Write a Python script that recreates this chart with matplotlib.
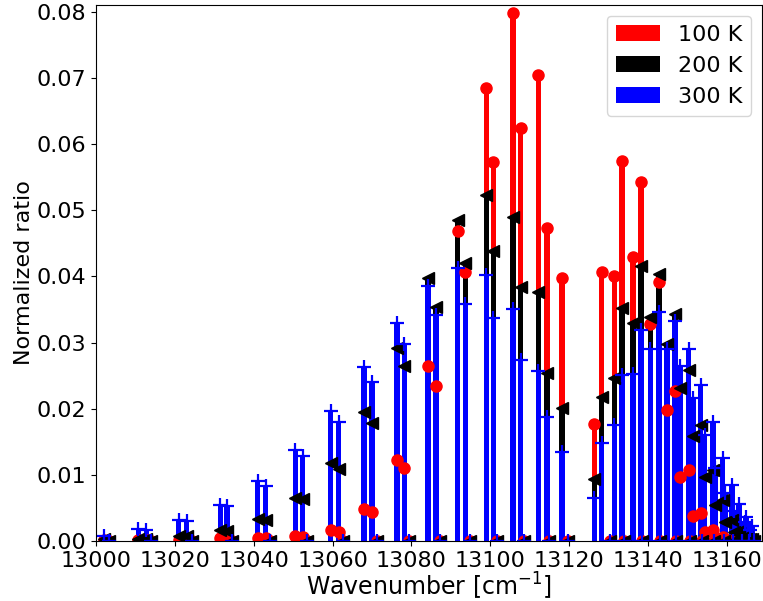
import numpy as np
import matplotlib
matplotlib.use('Agg')
import matplotlib.pyplot as plt

# line positions [cm-1] and normalized ratios at 100 K, 200 K, 300 K
wn = [13001.9, 13003.2,
      13010.7, 13012.7, 13014.0, 13020.9, 13023.0, 13024.2,
      13031.5, 13033.2, 13034.4, 13041.0, 13043.0, 13044.2,
      13050.5, 13052.4, 13053.6, 13059.5, 13061.5, 13062.7,
      13068.0, 13070.0, 13071.2, 13076.3, 13078.2, 13079.4,
      13084.2, 13086.2, 13087.3, 13091.7, 13093.7, 13094.9,
      13099.0, 13100.8, 13101.8, 13105.8, 13107.7, 13108.6,
      13112.2, 13114.4, 13115.0, 13118.2, 13119.6,
      13126.4, 13128.3, 13130.5, 13131.5, 13133.4, 13133.9,
      13136.2, 13138.2, 13138.5, 13140.6, 13142.8, 13143.0,
      13144.8, 13146.9, 13147.0, 13148.2, 13150.3, 13150.6,
      13151.4, 13153.4, 13153.8, 13154.4, 13156.5, 13156.8,
      13157.1, 13159.0, 13159.3, 13159.6, 13161.3, 13161.5,
      13161.8, 13163.1, 13163.8, 13164.5, 13164.9, 13165.7,
      13166.0, 13166.4, 13166.8]
r100 = [0.0001, 0,
        0.0001, 0.0001, 0, 0.0002, 0.0001, 0,
        0.0004, 0.0003, 0, 0.0004, 0.0004, 0,
        0.0007, 0.0006, 0, 0.0016, 0.0014, 0,
        0.0048, 0.0043, 0, 0.0123, 0.0111, 0,
        0.0264, 0.0234, 0, 0.0469, 0.0407, 0,
        0.0685, 0.0573, 0, 0.0798, 0.0624, 0,
        0.0705, 0.0474, 0, 0.0397, 0,
        0.0177, 0.0407, 0, 0.0400, 0.0575, 0,
        0.0430, 0.0543, 0, 0.0328, 0.0391, 0,
        0.0198, 0.0227, 0, 0.0096, 0.0108, 0,
        0.0038, 0.0042, 0, 0.0014, 0.0016, 0,
        0.0005, 0.0006, 0, 0.0002, 0.0002, 0,
        0.0001, 0.0001, 0, 0, 0, 0,
        0, 0, 0]
r200 = [0.0003, 0,
        0.0003, 0.0003, 0, 0.0008, 0.0007, 0,
        0.0016, 0.0015, 0, 0.0033, 0.0032, 0,
        0.0065, 0.0063, 0, 0.0118, 0.0109, 0,
        0.0195, 0.0179, 0, 0.0292, 0.0265, 0,
        0.0398, 0.0354, 0, 0.0485, 0.0421, 0,
        0.0523, 0.0438, 0, 0.0490, 0.0384, 0,
        0.0377, 0.0254, 0, 0.0201, 0,
        0.0094, 0.0218, 0, 0.0246, 0.0353, 0,
        0.0329, 0.0416, 0, 0.0339, 0.0404, 0,
        0.0298, 0.0343, 0, 0.0231, 0.0259, 0,
        0.0158, 0.0176, 0, 0.0097, 0.0107, 0,
        0.0054, 0.0062, 0, 0.0028, 0.0032, 0,
        0.0013, 0.0015, 0, 0.0006, 0.0007, 0,
        0.0003, 0.0003, 0]
r300 = [0.0007, 0,
        0.0018, 0.0017, 0, 0.0032, 0.0030, 0,
        0.0055, 0.0053, 0, 0.0090, 0.0083, 0,
        0.0137, 0.0128, 0, 0.0196, 0.0180, 0,
        0.0263, 0.0241, 0, 0.0329, 0.0298, 0,
        0.0385, 0.0342, 0, 0.0413, 0.0359, 0,
        0.0402, 0.0337, 0, 0.0351, 0.0274, 0,
        0.0257, 0.0188, 0, 0.0134, 0,
        0.0065, 0.0148, 0, 0.0176, 0.0251, 0,
        0.0253, 0.0319, 0, 0.0290, 0.0347, 0,
        0.0290, 0.0332, 0, 0.0265, 0.0290, 0,
        0.0216, 0.0236, 0, 0.0160, 0.0180, 0,
        0.0110, 0.0125, 0, 0.0072, 0.0085, 0,
        0.0045, 0.0056, 0, 0.0028, 0.0036, 0,
        0.0017, 0.0022, 0]
labels = ['100 K', '200 K', '300 K']
colors = ['red', 'black', 'blue']
markers = ['o', '<', '+']

plt.rcParams['font.size'] = 16
fig, ax = plt.subplots(figsize=(7.63, 6.01), dpi=100)
fig.subplots_adjust(left=0.126, right=0.999, top=0.992, bottom=0.1)

series = [r100, r200, r300]
for vals, c, lab in zip(series, colors, labels):
    ax.bar(wn, vals, width=1.35, color=c, label=lab)
for vals, c, m in zip(series, colors, markers):
    if m == '+':
        ax.plot(wn, vals, m, color=c, ms=10, mew=1.6)
    else:
        ax.plot(wn, vals, m, color=c, ms=8)

ax.set_xlim(13000, 13169)
ax.set_ylim(0, 0.0811)
ax.set_xticks(np.arange(13000, 13161, 20))
ax.set_yticks(np.arange(0, 0.081, 0.01))
ax.yaxis.set_major_formatter(matplotlib.ticker.FormatStrFormatter('%.2f'))
ax.set_xlabel('Wavenumber [cm$^{-1}$]', fontsize=17, labelpad=0)
ax.set_ylabel('Normalized ratio', labelpad=2)
ax.legend(loc='upper right')

plt.savefig('out.png')
